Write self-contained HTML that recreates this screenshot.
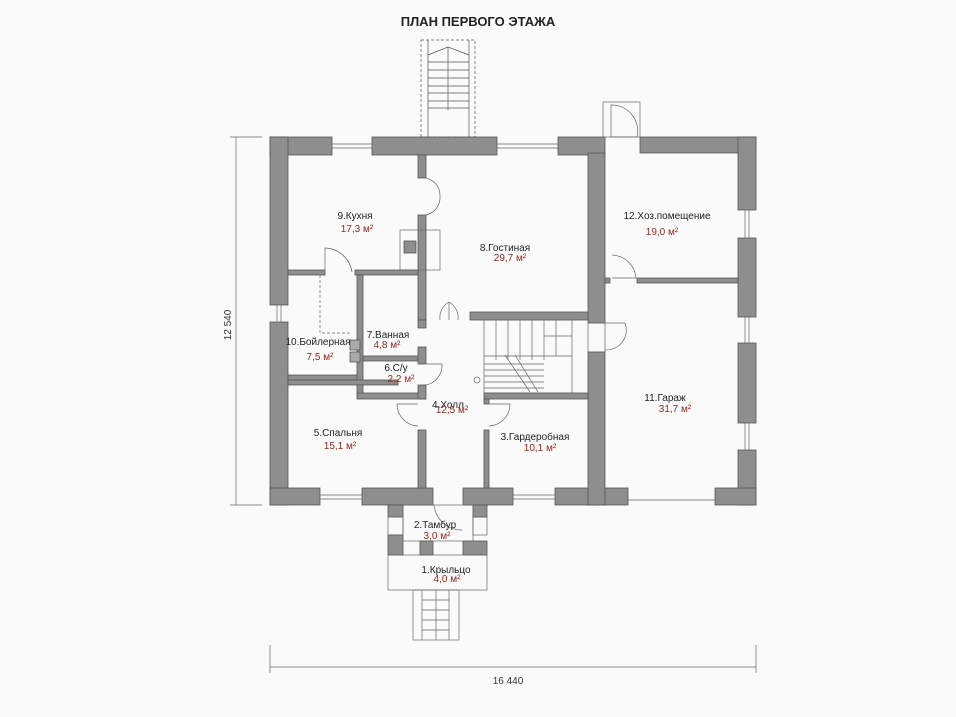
<!DOCTYPE html>
<html><head><meta charset="utf-8"><style>
html,body{margin:0;padding:0;background:#fafafa;}
svg{display:block;}
text{font-family:"Liberation Sans",sans-serif;}
.n{font-size:10px;fill:#222;}
.a{font-size:10px;fill:#8b2a22;}
</style></head><body>
<svg width="956" height="717" viewBox="0 0 956 717" xmlns="http://www.w3.org/2000/svg">
<rect width="956" height="717" fill="#fafafa"/>
<text x="478" y="26" text-anchor="middle" font-size="13" font-weight="bold" fill="#222">ПЛАН ПЕРВОГО ЭТАЖА</text>

<!-- top stairs -->
<g stroke="#555" stroke-width="0.7" fill="none">
<rect x="421" y="40" width="54" height="97" stroke-dasharray="3,2"/>
<line x1="428" y1="40" x2="428" y2="137"/><line x1="469" y1="40" x2="469" y2="137"/>
<polyline points="428,55 448,47 469,55"/>
<line x1="448" y1="47" x2="448" y2="110"/>
<line x1="428" y1="62" x2="469" y2="62"/><line x1="428" y1="70" x2="469" y2="70"/><line x1="428" y1="78" x2="469" y2="78"/><line x1="428" y1="86" x2="469" y2="86"/><line x1="428" y1="93" x2="469" y2="93"/><line x1="428" y1="101" x2="469" y2="101"/><line x1="428" y1="108" x2="469" y2="108"/>
</g>

<!-- dimension lines -->
<g stroke="#666" stroke-width="0.7">
<line x1="236" y1="137" x2="236" y2="505"/><line x1="230" y1="137" x2="262" y2="137"/><line x1="230" y1="505" x2="262" y2="505"/>
<line x1="270" y1="667" x2="756" y2="667"/><line x1="270" y1="645" x2="270" y2="673"/><line x1="756" y1="645" x2="756" y2="673"/>
</g>
<text x="0" y="0" font-size="10" fill="#333" text-anchor="middle" transform="translate(231,325) rotate(-90)">12 540</text>
<text x="508" y="684" font-size="10" fill="#333" text-anchor="middle">16 440</text>

<!-- walls -->
<g fill="#8e8e8e" stroke="#555" stroke-width="0.8">
<!-- top wall -->
<rect x="270" y="137" width="62" height="18"/>
<rect x="372" y="137" width="125" height="18"/>
<rect x="558" y="137" width="47" height="18"/>
<rect x="640" y="137" width="116" height="16"/>
<!-- left wall -->
<rect x="270" y="137" width="18" height="168"/>
<rect x="270" y="322" width="18" height="183"/>
<!-- right wall -->
<rect x="738" y="137" width="18" height="73"/>
<rect x="738" y="238" width="18" height="79"/>
<rect x="738" y="343" width="18" height="80"/>
<rect x="738" y="450" width="18" height="55"/>
<!-- bottom wall -->
<rect x="270" y="488" width="50" height="17"/>
<rect x="362" y="488" width="71" height="17"/>
<rect x="463" y="488" width="50" height="17"/>
<rect x="555" y="488" width="73" height="17"/>
<rect x="715" y="488" width="41" height="17"/>
<!-- house/garage wall -->
<rect x="588" y="153" width="17" height="170"/>
<rect x="588" y="352" width="17" height="153"/>
<rect x="605" y="278" width="5" height="5"/>
<rect x="637" y="278" width="101" height="5"/>
<!-- kitchen/living -->
<rect x="418" y="155" width="8" height="23"/>
<rect x="418" y="215" width="8" height="105"/>
<rect x="288" y="270" width="37" height="5"/>
<rect x="355" y="270" width="63" height="5"/>
<rect x="357" y="275" width="6" height="120"/>
<rect x="363" y="356" width="62" height="5"/>
<rect x="357" y="393" width="68" height="6"/>
<rect x="288" y="375" width="69" height="5"/>
<rect x="418" y="320" width="8" height="8"/>
<rect x="418" y="347" width="8" height="17"/>
<rect x="418" y="385" width="8" height="14"/>
<rect x="288" y="380" width="110" height="5"/>
<rect x="418" y="430" width="8" height="58"/>
<rect x="470" y="312" width="118" height="8"/>
<rect x="484" y="393" width="104" height="6"/>
<rect x="484" y="399" width="5" height="5"/>
<rect x="484" y="430" width="5" height="58"/>
<rect x="350" y="340" width="10" height="10" fill="#aaa"/>
<rect x="350" y="352" width="10" height="10" fill="#aaa"/>
<!-- vestibule -->
<rect x="388" y="505" width="15" height="12"/>
<rect x="473" y="505" width="14" height="12"/>
<rect x="388" y="535" width="15" height="20"/>
<rect x="420" y="541" width="13" height="14"/>
<rect x="463" y="541" width="24" height="14"/>
</g>
<g fill="none" stroke="#666" stroke-width="0.7">
<rect x="403" y="505" width="70" height="36"/>
<rect x="388" y="555" width="99" height="35"/>
<rect x="388" y="517" width="15" height="18"/><rect x="473" y="517" width="14" height="18"/>
<rect x="413" y="590" width="46" height="50"/>
<line x1="422" y1="590" x2="422" y2="640"/><line x1="449" y1="590" x2="449" y2="640"/>
<line x1="422" y1="600" x2="449" y2="600"/><line x1="422" y1="610" x2="449" y2="610"/><line x1="422" y1="620" x2="449" y2="620"/><line x1="422" y1="630" x2="449" y2="630"/>
<line x1="436" y1="590" x2="436" y2="640"/>
<!-- garage door & top door frame -->
<rect x="603" y="102" width="37" height="35"/>
<line x1="628" y1="500" x2="715" y2="500"/>
<rect x="588" y="323" width="17" height="29"/>
<!-- windows -->
<line x1="332" y1="144" x2="372" y2="144"/><line x1="332" y1="148" x2="372" y2="148"/>
<line x1="497" y1="144" x2="558" y2="144"/><line x1="497" y1="148" x2="558" y2="148"/>
<line x1="320" y1="495" x2="362" y2="495"/><line x1="320" y1="499" x2="362" y2="499"/>
<line x1="513" y1="495" x2="555" y2="495"/><line x1="513" y1="499" x2="555" y2="499"/>
<line x1="745" y1="210" x2="745" y2="238"/><line x1="749" y1="210" x2="749" y2="238"/>
<line x1="745" y1="317" x2="745" y2="343"/><line x1="749" y1="317" x2="749" y2="343"/>
<line x1="745" y1="423" x2="745" y2="450"/><line x1="749" y1="423" x2="749" y2="450"/>
<line x1="277" y1="305" x2="277" y2="322"/><line x1="281" y1="305" x2="281" y2="322"/>
<!-- fireplace -->
<rect x="400" y="230" width="40" height="40"/>
<rect x="404" y="241" width="12" height="12" fill="#8e8e8e" stroke="#444"/>
<!-- boiler dashed -->
<polyline points="320,275 320,333 350,333" stroke-dasharray="3,2"/>
<!-- stairs -->
<rect x="484" y="320" width="88" height="73"/>
<line x1="496" y1="320" x2="496" y2="360"/><line x1="508" y1="320" x2="508" y2="360"/><line x1="520" y1="320" x2="520" y2="360"/><line x1="532" y1="320" x2="532" y2="360"/><line x1="544" y1="320" x2="544" y2="360"/><line x1="556" y1="320" x2="556" y2="356"/>
<line x1="484" y1="356" x2="572" y2="356"/>
<line x1="484" y1="364" x2="544" y2="364"/><line x1="484" y1="370" x2="544" y2="370"/><line x1="484" y1="376" x2="544" y2="376"/><line x1="484" y1="382" x2="544" y2="382"/><line x1="484" y1="388" x2="544" y2="388"/>
<line x1="544" y1="336" x2="572" y2="336"/>
<line x1="505" y1="355" x2="530" y2="392"/><line x1="515" y1="355" x2="538" y2="392"/>
<circle cx="477" cy="380" r="3"/>
<!-- door arcs -->
<path d="M426,178 A18,18 0 0 1 440,196 M426,215 A18,18 0 0 0 440,196"/>
<path d="M325,275 L325,248 A28,28 0 0 1 352,272"/>
<path d="M440,320 A18,18 0 0 1 449,302 L449,320 M458,320 A18,18 0 0 0 449,302"/>
<path d="M426,364 L442,364 A20,20 0 0 1 426,385"/>
<path d="M418,404 L397,404 A22,22 0 0 0 418,426"/>
<path d="M489,404 L510,404 A22,22 0 0 1 489,426"/>
<path d="M611,105 A26,26 0 0 1 637,137 L611,137 Z" stroke-width="0.7"/>
<path d="M612,255 A25,25 0 0 1 636,278 L612,278"/>
<path d="M605,323 L625,323 A20,20 0 0 1 605,350"/>
<path d="M434,505 A28,28 0 0 0 462,530"/>
</g>

<!-- labels -->
<text class="n" x="355" y="219" text-anchor="middle">9.Кухня</text>
<text class="a" x="357" y="232" text-anchor="middle">17,3 м²</text>
<text class="n" x="505" y="251" text-anchor="middle">8.Гостиная</text>
<text class="a" x="510" y="261" text-anchor="middle">29,7 м²</text>
<text class="n" x="667" y="219" text-anchor="middle">12.Хоз.помещение</text>
<text class="a" x="662" y="235" text-anchor="middle">19,0 м²</text>
<text class="n" x="665" y="401" text-anchor="middle">11.Гараж</text>
<text class="a" x="675" y="412" text-anchor="middle">31,7 м²</text>
<text class="n" x="318" y="345" text-anchor="middle">10.Бойлерная</text>
<text class="a" x="320" y="360" text-anchor="middle">7,5 м²</text>
<text class="n" x="388" y="338" text-anchor="middle">7.Ванная</text>
<text class="a" x="387" y="348" text-anchor="middle">4,8 м²</text>
<text class="n" x="396" y="371" text-anchor="middle">6.С/у</text>
<text class="a" x="401" y="382" text-anchor="middle">2,2 м²</text>
<text class="n" x="448" y="408" text-anchor="middle">4.Холл</text>
<text class="a" x="452" y="413" text-anchor="middle">12,5 м²</text>
<text class="n" x="338" y="436" text-anchor="middle">5.Спальня</text>
<text class="a" x="340" y="449" text-anchor="middle">15,1 м²</text>
<text class="n" x="535" y="440" text-anchor="middle">3.Гардеробная</text>
<text class="a" x="540" y="451" text-anchor="middle">10,1 м²</text>
<text class="n" x="435" y="528" text-anchor="middle">2.Тамбур</text>
<text class="a" x="437" y="539" text-anchor="middle">3,0 м²</text>
<text class="n" x="446" y="573" text-anchor="middle">1.Крыльцо</text>
<text class="a" x="447" y="582" text-anchor="middle">4,0 м²</text>
</svg>
</body></html>
